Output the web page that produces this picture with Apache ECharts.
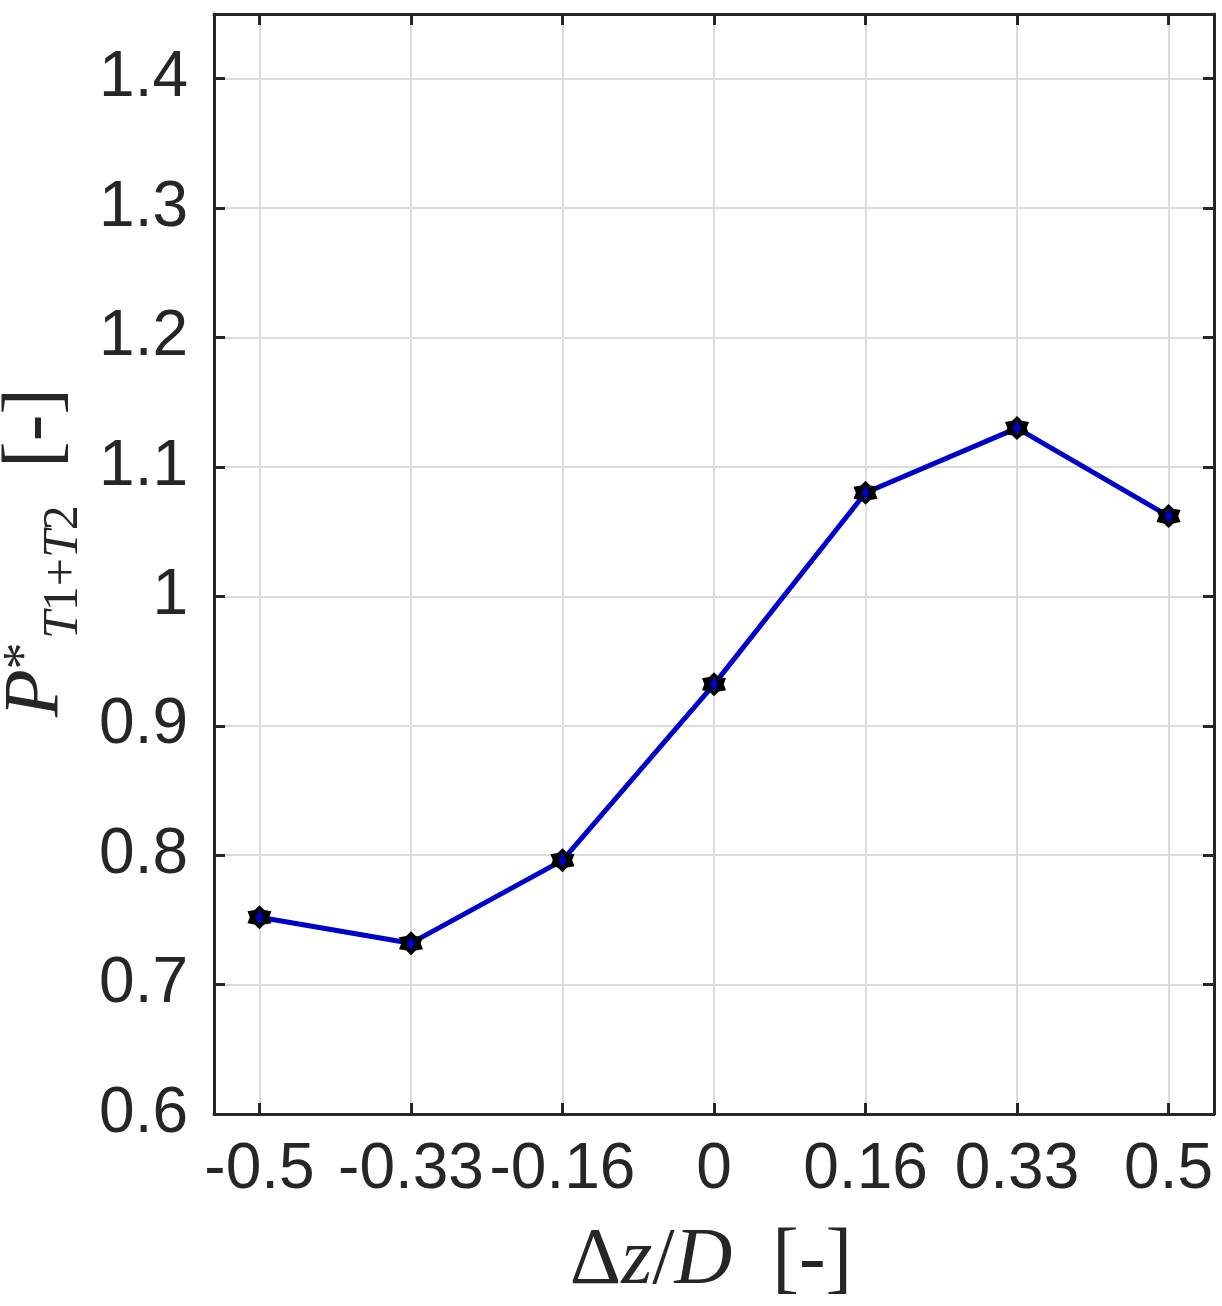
<!DOCTYPE html>
<html>
<head>
<meta charset="utf-8">
<script src="https://cdn.jsdelivr.net/npm/echarts@6/dist/echarts.min.js"></script>
<style>
html,body{margin:0;padding:0;background:#fff;}
#chart{width:1222px;height:1306px;}
</style>
</head>
<body>
<div id="chart"></div>
<script>
// ---- data ----
const xTicks = [-0.5, -0.3333, -0.1667, 0, 0.1667, 0.3333, 0.5];
const xTickLabels = ['-0.5', '-0.33', '-0.16', '0', '0.16', '0.33', '0.5'];
const yTicks = [0.6, 0.7, 0.8, 0.9, 1.0, 1.1, 1.2, 1.3, 1.4];
const xValues = [-0.5, -0.3333, -0.1667, 0, 0.1667, 0.3333, 0.5];
const yValues = [0.752, 0.732, 0.796, 0.932, 1.080, 1.130, 1.062];

const points = xValues.map((x, i) => [x, yValues[i]]);

const AX = '#262626';
const GRID = '#dcdcdc';
const tickFont = 'Liberation Sans, Arial, sans-serif';
const serif = 'Liberation Serif, Times New Roman, serif';

function xLabel(v) {
  const i = xTicks.findIndex(t => Math.abs(t - v) < 1e-6);
  return i >= 0 ? xTickLabels[i] : '';
}

const starPath = 'path://M0,-10 L3.5,-6.06 L8.66,-5 L7,0 L8.66,5 L3.5,6.06 L0,10 L-3.5,6.06 L-8.66,5 L-7,0 L-8.66,-5 L-3.5,-6.06 Z';

const baseX = {
  type: 'value', min: -0.55, max: 0.55,
  axisLine: { show: true, onZero: false, lineStyle: { color: AX, width: 3 } },
  axisTick: { show: true, inside: true, length: 11, customValues: xTicks, lineStyle: { color: AX, width: 3 } },
  splitLine: { show: false }
};
const baseY = {
  type: 'value', min: 0.6, max: 1.45,
  axisLine: { show: true, onZero: false, lineStyle: { color: AX, width: 3 } },
  axisTick: { show: true, inside: true, length: 11, customValues: yTicks, lineStyle: { color: AX, width: 3 } },
  splitLine: { show: false }
};

const chart = echarts.init(document.getElementById('chart'), null, { renderer: 'canvas' });
chart.setOption({
  animation: false,
  backgroundColor: '#ffffff',
  grid: { left: 214, top: 14, right: 8, bottom: 192, containLabel: false },
  xAxis: [
    Object.assign({}, baseX, {
      position: 'bottom',
      splitLine: { show: true, lineStyle: { color: GRID, width: 2 } },
      axisLabel: { show: true, customValues: xTicks, formatter: xLabel, margin: 24,
        fontFamily: tickFont, fontSize: 64, color: AX, hideOverlap: false }
    }),
    Object.assign({}, baseX, { position: 'top', axisLabel: { show: false } })
  ],
  yAxis: [
    Object.assign({}, baseY, {
      position: 'left',
      splitLine: { show: true, lineStyle: { color: GRID, width: 2 } },
      axisLabel: { show: true, customValues: yTicks, margin: 26,
        fontFamily: tickFont, fontSize: 64, color: AX }
    }),
    Object.assign({}, baseY, { position: 'right', axisLabel: { show: false } })
  ],
  series: [
    {
      type: 'line', xAxisIndex: 0, yAxisIndex: 0,
      data: points,
      lineStyle: { color: '#0000cc', width: 5 },
      symbol: starPath, symbolSize: 24,
      itemStyle: { color: '#000000' },
      z: 3
    },
    {
      type: 'scatter', xAxisIndex: 0, yAxisIndex: 0,
      data: points,
      symbol: 'diamond', symbolSize: [8, 14],
      itemStyle: { color: '#0000ff' },
      z: 4
    }
  ],
  graphic: [
    {
      type: 'group', x: 62, y: 717, rotation: Math.PI / 2,
      children: [
        { type: 'text', x: 0, y: 13, style: { text: 'P', font: 'italic 78px ' + serif, fill: AX, verticalAlign: 'bottom', align: 'left' } },
        { type: 'text', x: 61, y: -36, style: { text: '*', font: '54px ' + serif, fill: AX, verticalAlign: 'middle', align: 'center' } },
        { type: 'text', x: 78, y: 27, style: {
            text: '{i|T}{u|1+}{i|T}{u|2}', verticalAlign: 'bottom', align: 'left',
            rich: { i: { font: 'italic 50px ' + serif, fill: AX }, u: { font: '50px ' + serif, fill: AX } } } },
        { type: 'text', x: 249, y: 14, style: { text: '[-]', font: '80px ' + serif, fill: AX, verticalAlign: 'bottom', align: 'left' } }
      ]
    },
    {
      type: 'text', x: 711, y: 1262,
      style: {
        text: '{u|Δ}{i|z}{u|/}{i|D}{u|\u2002[-]}', align: 'center', verticalAlign: 'middle',
        rich: { i: { font: 'italic 80px ' + serif, fill: AX }, u: { font: '80px ' + serif, fill: AX } }
      }
    }
  ]
});
</script>
</body>
</html>
